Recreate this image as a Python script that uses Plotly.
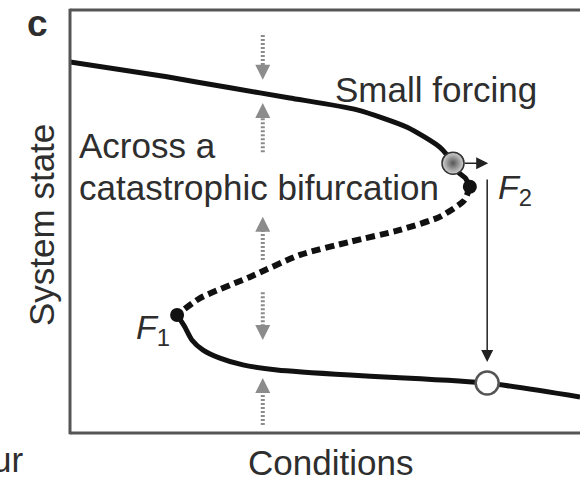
import plotly.graph_objects as go

# ---- data (Conditions 0-100, System state 0-100) ----
upper_x = [0.0, 19.0, 31.4, 43.1, 56.3, 66.1, 72.5, 75.1, 76.1, 77.5, 78.4]
upper_y = [87.7, 84.2, 81.6, 79.2, 76.4, 72.3, 67.6, 63.8, 61.7, 60.3, 58.2]

unstable_x = [78.4, 77.3, 72.5, 64.7, 54.9, 45.1, 35.3, 25.5, 21.0]
unstable_y = [58.2, 55.0, 51.1, 48.0, 45.2, 42.1, 36.9, 31.9, 27.9]

lower_x = [21.0, 22.5, 23.9, 26.1, 29.4, 33.9, 40.6, 54.9, 62.7, 81.8, 100.0]
lower_y = [27.9, 25.1, 22.0, 19.6, 17.7, 16.1, 14.9, 13.7, 13.2, 11.8, 8.5]

fold_x = [21.0, 78.4]          # F1, F2
fold_y = [27.9, 58.2]
ball_x, ball_y = [75.1], [63.8]   # state before small forcing
end_x, end_y = [81.8], [11.8]     # state after the collapse

# gray attraction arrows (x, tail y, tip y)
arrow_x = 37.8
arrow_tail = [94.1, 66.4, 40.9, 33.3, 1.9]
arrow_tip = [83.5, 78.0, 51.1, 22.0, 13.0]

# black arrows: small forcing and collapse
force_arrow = dict(x0=77.1, y0=63.8, x1=82.0, y1=63.8)
jump_arrow = dict(x0=81.8, y0=60.3, x1=81.8, y1=16.8)

FONT = "Liberation Sans, Arial, sans-serif"
TXT = "#2e2e2e"
GRAY = "#8c8c8c"
FRAME = "#555"

fig = go.Figure()

fig.add_trace(go.Scatter(x=upper_x, y=upper_y, mode="lines",
                         line=dict(color="#111", width=5, shape="spline", smoothing=0.6),
                         hoverinfo="skip"))
fig.add_trace(go.Scatter(x=unstable_x, y=unstable_y, mode="lines",
                         line=dict(color="#111", width=6, dash="9px,5px", shape="spline", smoothing=0.6),
                         hoverinfo="skip"))
fig.add_trace(go.Scatter(x=lower_x, y=lower_y, mode="lines",
                         line=dict(color="#111", width=5, shape="spline", smoothing=0.6),
                         hoverinfo="skip"))

# gray dotted shafts
head_len = 3.0
sx, sy = [], []
for t, p in zip(arrow_tail, arrow_tip):
    d = 1 if p > t else -1
    sx += [arrow_x, arrow_x, None]
    sy += [t, p - d * head_len, None]
fig.add_trace(go.Scatter(x=sx, y=sy, mode="lines",
                         line=dict(color=GRAY, width=4, dash="2px,2px"),
                         hoverinfo="skip"))

fig.add_trace(go.Scatter(x=fold_x, y=fold_y, mode="markers",
                         marker=dict(color="#111", size=14), hoverinfo="skip"))
fig.add_trace(go.Scatter(x=ball_x, y=ball_y, mode="markers",
                         marker=dict(color="#d4d4d4", size=22,
                                     gradient=dict(type="radial", color="#555"),
                                     line=dict(color="#333", width=1.5)),
                         hoverinfo="skip"))
fig.add_trace(go.Scatter(x=end_x, y=end_y, mode="markers",
                         marker=dict(color="white", size=23,
                                     line=dict(color="#555", width=2.5)),
                         hoverinfo="skip"))

annotations = []
for t, p in zip(arrow_tail, arrow_tip):
    d = 1 if p > t else -1
    annotations.append(dict(x=arrow_x, y=p, ax=arrow_x, ay=p - d * head_len,
                            xref="x", yref="y", axref="x", ayref="y", text="",
                            showarrow=True, arrowhead=2, arrowsize=1.5, arrowwidth=2,
                            arrowcolor=GRAY))
for a in (force_arrow, jump_arrow):
    annotations.append(dict(x=a["x1"], y=a["y1"], ax=a["x0"], ay=a["y0"],
                            xref="x", yref="y", axref="x", ayref="y", text="",
                            showarrow=True, arrowhead=2, arrowsize=1.6, arrowwidth=1.5,
                            arrowcolor="#222"))


def label(text, x, y, xanchor="center", size=35, angle=0, **kw):
    annotations.append(dict(text=text, x=x, y=y, xref="paper", yref="paper",
                            xanchor=xanchor, yanchor="middle", showarrow=False,
                            textangle=angle,
                            font=dict(family=FONT, size=size, color=TXT, **kw)))


label("Small forcing", 0.7048, 0.811)
label("Across a", 0.01346, 0.6785, xanchor="left")
label("catastrophic bifurcation", 0.01346, 0.5792, xanchor="left")
label("Conditions", 0.5, -0.0709)
label("System state", -0.0558, 0.4917, angle=-90)
label("<b>c</b>", -0.0625, 0.968, size=37)
label("ur", -0.0865, -0.0638, xanchor="right")
label("<i>F</i><sub>1</sub>", 0.1596, 0.245, size=34)
label("<i>F</i><sub>2</sub>", 0.8567, 0.575, size=34)

# open frame: left, top and bottom (right side runs past the picture edge)
frame = [
    dict(type="line", xref="paper", yref="paper", x0=0, x1=0, y0=-0.003, y1=1.003),
    dict(type="line", xref="paper", yref="paper", x0=0, x1=1, y0=1, y1=1),
    dict(type="line", xref="paper", yref="paper", x0=0, x1=1, y0=0, y1=0),
]
for s in frame:
    s["line"] = dict(color=FRAME, width=3)
    s["layer"] = "above"

fig.update_layout(
    width=590, height=481,
    margin=dict(l=70, r=0, t=10, b=48, autoexpand=False),
    paper_bgcolor="white", plot_bgcolor="white",
    showlegend=False,
    annotations=annotations,
    shapes=frame,
    xaxis=dict(range=[0, 101.96], showgrid=False, zeroline=False, showticklabels=False,
               ticks="", showline=False),
    yaxis=dict(range=[0, 100], showgrid=False, zeroline=False, showticklabels=False,
               ticks="", showline=False),
)

fig.write_html("out.html", config={"displayModeBar": False},
               post_script="document.documentElement.style.overflow='hidden';document.body.style.margin='0';document.body.style.padding='0';document.body.style.overflow='hidden';")
